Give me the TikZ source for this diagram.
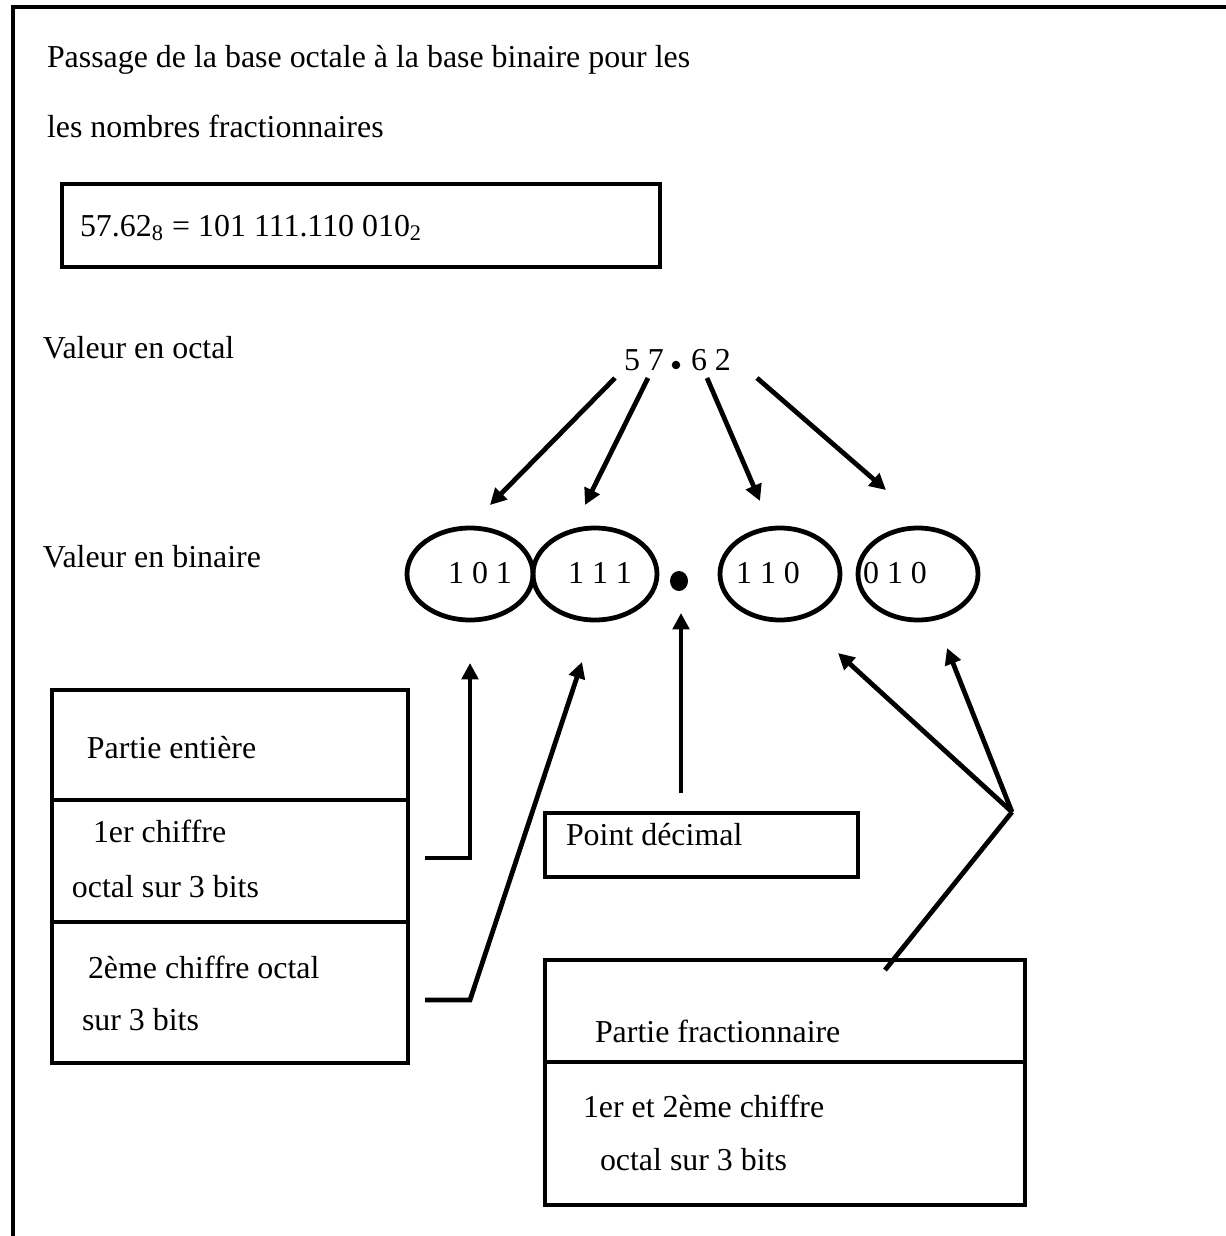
\documentclass[tikz,border=0pt]{standalone}
\usepackage{fontspec}
\setmainfont{Liberation Serif}
\usetikzlibrary{arrows.meta}
\begin{document}
\begin{tikzpicture}[x=0.3871pt,y=-0.3871pt,
  every node/.style={font=\fontsize{12.35}{14}\selectfont, inner sep=0pt, outer sep=0pt},
  txt/.style={anchor=base west},
  ctxt/.style={anchor=base},
  boxframe/.style={draw, line width=1.85pt},
  arr/.style={line width=1.85pt, -{Triangle[length=6.3pt,width=6.3pt]}},
  plain/.style={line width=1.85pt}
]
\useasboundingbox (0,0) rectangle (1225,1236);
% outer frame (top and left edges)
\draw[line width=1.8pt] (13,1240) -- (13,7) -- (1230,7);

% title
\node[txt] (t1) at (47,67) {Passage de la base octale à la base binaire pour les};
\node[txt] (t2) at (47,137) {les nombres fractionnaires};

% equation box
\draw[boxframe] (62,184) rectangle (660,267);
\node[txt] (eq) at (80,236) {57.62\textsubscript{8} = 101 111.110 010\textsubscript{2}};

% labels
\node[txt] (voct) at (43,358) {Valeur en octal};
\node[txt] (vbin) at (43,567) {Valeur en binaire};

% octal value
\node[txt] (d57) at (624,370) {5 7};
\node[circle, fill, minimum size=3.3pt] (pdot) at (676,365) {};
\node[txt] (d62) at (691,370) {6 2};

% binary ellipses
\draw[plain] (470,574) ellipse [x radius=63, y radius=46];
\draw[plain] (595,574) ellipse [x radius=62, y radius=46];
\draw[plain] (780,574) ellipse [x radius=60, y radius=46];
\draw[plain] (918,574) ellipse [x radius=60, y radius=46];
\node[ctxt] (b1) at (480,583) {1 0 1};
\node[ctxt] (b2) at (600,583) {1 1 1};
\node[ctxt] (b3) at (768,583) {1 1 0};
\node[ctxt] (b4) at (895,583) {0 1 0};
\fill (679,581) ellipse [x radius=9, y radius=10];

% arrows from octal digits
\coordinate (o1) at (615,378); \coordinate (i1) at (490,505);
\coordinate (o2) at (648,378); \coordinate (i2) at (585,505);
\coordinate (o3) at (707,378); \coordinate (i3) at (760,501);
\coordinate (o4) at (757,378); \coordinate (i4) at (886,490);
\draw[arr] (o1) -- (i1);
\draw[arr] (o2) -- (i2);
\draw[arr] (o3) -- (i3);
\draw[arr] (o4) -- (i4);

% left box
\draw[boxframe] (52,690) rectangle (408,1063);
\draw[plain] (52,800) -- (408,800);
\draw[plain] (52,922) -- (408,922);
\node[txt] (pe) at (87,758) {Partie entière};
\node[txt] (c1a) at (93,842) {1er chiffre};
\node[txt] (c1b) at (72,897) {octal sur 3 bits};
\node[txt] (c2a) at (88,978) {2ème chiffre octal};
\node[txt] (c2b) at (82,1030) {sur 3 bits};

\coordinate (l1) at (425,858); \coordinate (l1c) at (470,858); \coordinate (l1t) at (470,663);
\draw[arr] (l1) -- (l1c) -- (l1t);
\coordinate (l2) at (425,1000); \coordinate (l2c) at (470,1000); \coordinate (l2t) at (582,662);
\draw[arr] (l2) -- (l2c) -- (l2t);

% point decimal
\draw[boxframe] (545,813) rectangle (858,877);
\node[txt] (pd) at (566,845) {Point décimal};
\coordinate (pd0) at (681,793); \coordinate (pd1) at (681,613);
\draw[arr] (pd0) -- (pd1);

% right box
\draw[boxframe] (545,960) rectangle (1025,1205);
\draw[plain] (545,1062) -- (1025,1062);
\node[txt] (pf) at (595,1042) {Partie fractionnaire};
\node[txt] (pf1) at (583,1117) {1er et 2ème chiffre};
\node[txt] (pf2) at (600,1170) {octal sur 3 bits};

\coordinate (J) at (1012,812);
\coordinate (f0) at (885,970);
\coordinate (f1) at (838,653);
\coordinate (f2) at (947,648);
\draw[plain] (f0) -- (J);
\draw[arr] (J) -- (f1);
\draw[arr] (J) -- (f2);
\end{tikzpicture}
\end{document}
